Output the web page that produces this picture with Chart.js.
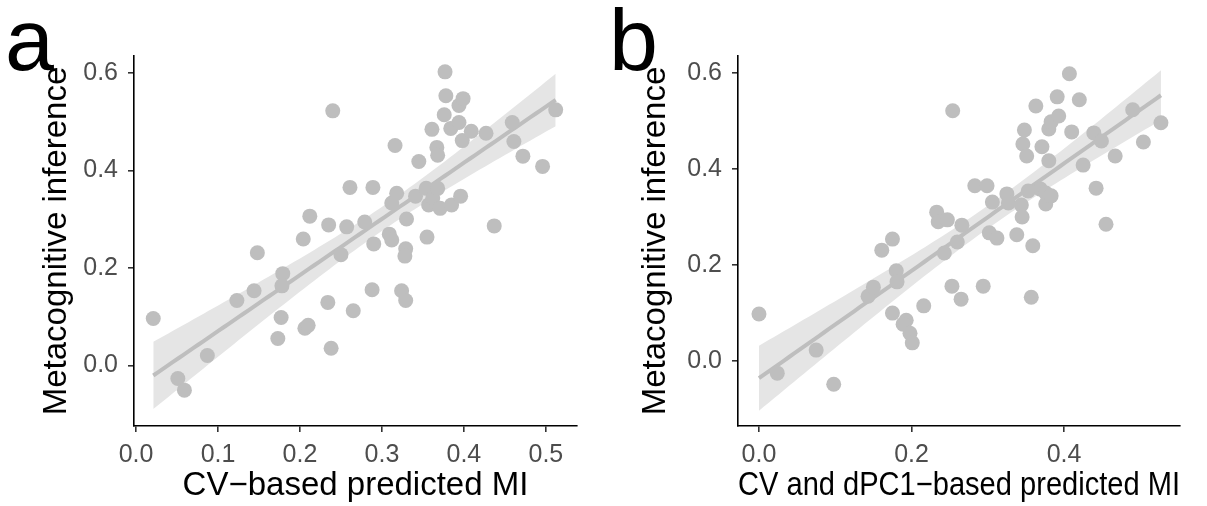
<!DOCTYPE html>
<html>
<head>
<meta charset="utf-8">
<script src="https://cdn.jsdelivr.net/npm/chart.js@4.4.1/dist/chart.umd.min.js"></script>
<style>
  html, body { margin: 0; padding: 0; background: #fff; }
  #wrap { position: relative; width: 1207px; height: 506px; overflow: hidden; }
  canvas { position: absolute; top: 0; }
  #chartA { left: 0; }
  #chartB { left: 600px; }
</style>
</head>
<body>
<div id="wrap">
  <canvas id="chartA" width="600" height="506"></canvas>
  <canvas id="chartB" width="607" height="506"></canvas>
</div>
<script>
// Panel a: CV-based predicted MI (x) vs metacognitive inference (y)
const cvPredA = [0.021, 0.051, 0.059, 0.087, 0.123, 0.144, 0.148, 0.179, 0.178, 0.177, 0.173,
  0.204, 0.206, 0.210, 0.212, 0.234, 0.235, 0.238, 0.240, 0.250, 0.257, 0.261, 0.265, 0.279,
  0.288, 0.290, 0.289, 0.309, 0.312, 0.312, 0.316, 0.318, 0.324, 0.329, 0.329, 0.328, 0.330,
  0.341, 0.345, 0.354, 0.355, 0.357, 0.362, 0.361, 0.367, 0.368, 0.368, 0.371, 0.376, 0.377,
  0.378, 0.384, 0.385, 0.394, 0.394, 0.396, 0.398, 0.399, 0.409, 0.427, 0.437, 0.459, 0.461,
  0.472, 0.496, 0.512];
const metaInfA = [0.096, -0.027, -0.051, 0.020, 0.133, 0.153, 0.231, 0.188, 0.163, 0.098, 0.055,
  0.259, 0.076, 0.082, 0.306, 0.129, 0.288, 0.035, 0.522, 0.227, 0.284, 0.365, 0.112, 0.294,
  0.155, 0.249, 0.365, 0.269, 0.257, 0.333, 0.451, 0.353, 0.153, 0.133, 0.239, 0.224, 0.300,
  0.347, 0.418, 0.363, 0.263, 0.329, 0.343, 0.484, 0.447, 0.431, 0.363, 0.322, 0.514, 0.602,
  0.553, 0.486, 0.329, 0.533, 0.498, 0.347, 0.461, 0.547, 0.480, 0.476, 0.286, 0.498, 0.459,
  0.429, 0.408, 0.524];

// Panel b: CV and dPC1-based predicted MI (x) vs metacognitive inference (y)
const cvDpcPredB = [0.000, 0.024, 0.075, 0.098, 0.143, 0.150, 0.161, 0.175, 0.180, 0.181, 0.175,
  0.193, 0.189, 0.198, 0.201, 0.216, 0.233, 0.235, 0.243, 0.247, 0.253, 0.265, 0.260, 0.266,
  0.254, 0.283, 0.294, 0.299, 0.302, 0.306, 0.312, 0.325, 0.327, 0.338, 0.344, 0.345, 0.346,
  0.348, 0.351, 0.353, 0.357, 0.359, 0.363, 0.369, 0.371, 0.376, 0.376, 0.380, 0.380, 0.383,
  0.383, 0.391, 0.393, 0.407, 0.410, 0.420, 0.425, 0.439, 0.442, 0.449, 0.455, 0.467, 0.490,
  0.504, 0.527];
const metaInfB = [0.098, -0.025, 0.023, -0.048, 0.135, 0.154, 0.231, 0.254, 0.188, 0.165, 0.100,
  0.085, 0.077, 0.058, 0.038, 0.115, 0.310, 0.290, 0.225, 0.294, 0.156, 0.129, 0.248, 0.283,
  0.521, 0.365, 0.156, 0.365, 0.267, 0.331, 0.256, 0.348, 0.329, 0.263, 0.325, 0.300, 0.452,
  0.481, 0.427, 0.354, 0.133, 0.240, 0.531, 0.358, 0.446, 0.350, 0.327, 0.483, 0.417, 0.498,
  0.344, 0.550, 0.510, 0.598, 0.477, 0.544, 0.408, 0.475, 0.360, 0.458, 0.285, 0.427, 0.523,
  0.456, 0.496];

// Tick positions
const yTickVals = [0, 0.2, 0.4, 0.6];
const xTickValsA = [0, 0.1, 0.2, 0.3, 0.4, 0.5];
const xTickValsB = [0, 0.2, 0.4];

const FONT = '"Liberation Sans", Arial, Helvetica, sans-serif';
const POINT_GREY = '#BEBEBE';
const BAND_GREY = '#E5E5E5';

// Ordinary least squares fit with a 95% confidence band, evaluated on a grid
function smoothFit(xs, ys, steps = 80) {
    const n = xs.length;
    const mx = xs.reduce((a, b) => a + b, 0) / n;
    const my = ys.reduce((a, b) => a + b, 0) / n;
    let sxx = 0, sxy = 0;
    for (let i = 0; i < n; i++) {
        sxx += (xs[i] - mx) ** 2;
        sxy += (xs[i] - mx) * (ys[i] - my);
    }
    const slope = sxy / sxx;
    const icpt = my - slope * mx;
    let sse = 0;
    for (let i = 0; i < n; i++) sse += (ys[i] - (icpt + slope * xs[i])) ** 2;
    const df = n - 2;
    const s = Math.sqrt(sse / df);
    const z = 1.959964;
    const t = z + (z ** 3 + z) / (4 * df);

    const lo = Math.min(...xs), hi = Math.max(...xs);
    const line = [], upper = [], lower = [];
    for (let k = 0; k <= steps; k++) {
        const x = lo + (hi - lo) * k / steps;
        const y = icpt + slope * x;
        const se = s * Math.sqrt(1 / n + (x - mx) ** 2 / sxx);
        line.push({ x, y });
        upper.push({ x, y: y + t * se });
        lower.push({ x, y: y - t * se });
    }
    return { line, upper, lower };
}

// Big panel letter in the top-left corner
const panelLetter = {
    id: 'panelLetter',
    afterDraw(chart, args, o) {
        const ctx = chart.ctx;
        ctx.save();
        ctx.font = `88px ${FONT}`;
        ctx.fillStyle = '#000';
        ctx.textBaseline = 'alphabetic';
        ctx.fillText(o.text, o.x, o.y);
        ctx.restore();
    }
};

function makePanel(canvasId, cfg) {
    const fit = smoothFit(cfg.xs, cfg.ys);
    const pts = cfg.xs.map((x, i) => ({ x, y: cfg.ys[i] }));

    const axisCommon = {
        type: 'linear',
        border: { display: true, color: '#000', width: 1.6 },
        grid: { display: true, drawOnChartArea: false, drawTicks: true, tickLength: 6, lineWidth: 1.6, color: '#333' },
    };

    return new Chart(document.getElementById(canvasId), {
        data: {
            datasets: [
                { type: 'scatter', data: pts, pointRadius: 7.5, pointHoverRadius: 7.5,
                  backgroundColor: POINT_GREY, borderWidth: 0, order: 0 },
                { type: 'line', data: fit.line, borderColor: POINT_GREY, borderWidth: 4,
                  pointRadius: 0, fill: false, order: 1 },
                { type: 'line', data: fit.upper, borderWidth: 0, pointRadius: 0,
                  backgroundColor: BAND_GREY, fill: '+1', order: 2 },
                { type: 'line', data: fit.lower, borderWidth: 0, pointRadius: 0,
                  fill: false, order: 3 }
            ]
        },
        options: {
            responsive: false,
            animation: false,
            devicePixelRatio: 1,
            layout: { padding: { top: 56, right: cfg.padRight, left: 0, bottom: 0 } },
            plugins: {
                legend: { display: false },
                tooltip: { enabled: false },
                panelLetter: cfg.letter
            },
            scales: {
                x: {
                    ...axisCommon,
                    position: 'bottom',
                    min: cfg.xMin, max: cfg.xMax,
                    afterBuildTicks: s => { s.ticks = cfg.xTicks.map(v => ({ value: v })); },
                    afterFit: s => { s.height = 80; },
                    ticks: { color: '#4D4D4D', padding: 8, font: { family: FONT, size: 25 },
                             maxRotation: 0, callback: v => v.toFixed(1) },
                    title: { display: true, text: cfg.xTitle, color: '#000',
                             font: { family: FONT, size: 33 }, padding: { top: 0, bottom: 0 } }
                },
                y: {
                    ...axisCommon,
                    position: 'left',
                    min: cfg.yMin, max: cfg.yMax,
                    afterBuildTicks: s => { s.ticks = yTickVals.map(v => ({ value: v })); },
                    afterFit: s => { s.width = cfg.yAxisWidth; },
                    ticks: { color: '#4D4D4D', padding: 10, font: { family: FONT, size: 25 },
                             callback: v => v.toFixed(1) },
                    title: { display: true, text: 'Metacognitive inference', color: '#000',
                             font: { family: FONT, size: 33 }, padding: { top: cfg.yTitlePad, bottom: 0 } }
                }
            }
        },
        plugins: [panelLetter]
    });
}

makePanel('chartA', {
    xs: cvPredA, ys: metaInfA,
    xMin: -0.0025, xMax: 0.538, yMin: -0.1245, yMax: 0.6345,
    xTicks: xTickValsA,
    xTitle: 'CV\u2212based predicted MI',
    padRight: 23, yAxisWidth: 134, yTitlePad: 37,
    letter: { text: 'a', x: 5, y: 70 }
});

makePanel('chartB', {
    xs: cvDpcPredB, ys: metaInfB,
    xMin: -0.0275, xMax: 0.552, yMin: -0.135, yMax: 0.635,
    xTicks: xTickValsB,
    xTitle: 'CV and dPC1\u2212based predicted MI',
    padRight: 27, yAxisWidth: 138, yTitlePad: 36,
    letter: { text: 'b', x: 9, y: 70 }
});
</script>
</body>
</html>
